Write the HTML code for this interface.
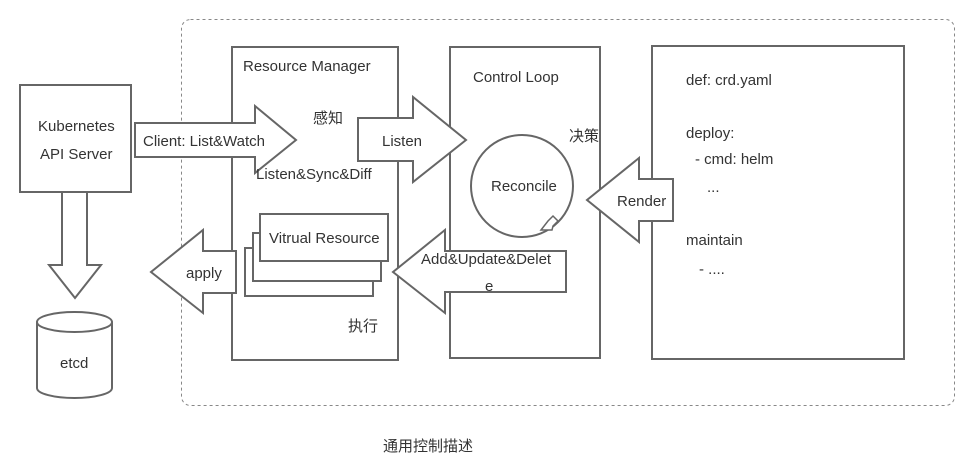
<!DOCTYPE html>
<html><head><meta charset="utf-8"><style>
body{margin:0;background:#fff}
svg text{font-family:"Liberation Sans","Noto Sans CJK SC",sans-serif;font-size:15px;fill:#333}
</style></head><body>
<svg width="974" height="467" viewBox="0 0 974 467" xmlns="http://www.w3.org/2000/svg">
<g fill="#fff" stroke="#666" stroke-width="2">
<rect x="181.5" y="19.5" width="773" height="386" rx="9" stroke="#888" stroke-width="1" stroke-dasharray="3,3"/>
<rect x="232" y="47" width="166" height="313"/>
<rect x="450" y="47" width="150" height="311"/>
<rect x="652" y="46" width="252" height="313"/>
<rect x="20" y="85" width="111" height="107"/>
<polygon points="62,192 87,192 87,265 101,265 75,298 49,265 62,265"/>
<path d="M37,322 L37,388 A37.5,10 0 0 0 112,388 L112,322 A37.5,10 0 0 0 37,322 Z"/>
<path d="M37,322 A37.5,10 0 0 0 112,322"/>
<polygon points="135,123 255,123 255,106 296,140 255,173 255,157 135,157"/>
<polygon points="358,118 413,118 413,97 466,140 413,182 413,161 358,161"/>
<circle cx="522" cy="186" r="51"/>
<polygon points="673,179 639,179 639,158 587,200 639,242 639,221 673,221"/>
<polygon points="566,251 445,251 445,230 393,272 445,313 445,292 566,292"/>
<rect x="245" y="248" width="128" height="48"/>
<rect x="253" y="233" width="128" height="48"/>
<rect x="260" y="214" width="128" height="47"/>
<polygon points="236,251 203,251 203,230 151,272 203,313 203,293 236,293"/>
<polygon points="541,230 548,221 553,216 558,221 553,226 552,230" stroke-width="1.5"/>
</g>
<text x="243" y="71">Resource Manager</text>
<text x="473" y="82">Control Loop</text>
<text x="38" y="131">Kubernetes</text>
<text x="40" y="159">API Server</text>
<text x="60" y="368">etcd</text>
<text x="143" y="146">Client: List&amp;Watch</text>
<text x="313" y="123">感知</text>
<text x="256" y="179">Listen&amp;Sync&amp;Diff</text>
<text x="382" y="146">Listen</text>
<text x="569" y="141">决策</text>
<text x="491" y="191">Reconcile</text>
<text x="617" y="206">Render</text>
<text x="269" y="243">Vitrual Resource</text>
<text x="421" y="264">Add&amp;Update&amp;Delet</text>
<text x="485" y="291">e</text>
<text x="186" y="278">apply</text>
<text x="348" y="331">执行</text>
<text x="686" y="85">def: crd.yaml</text>
<text x="686" y="138">deploy:</text>
<text x="695" y="164">- cmd: helm</text>
<text x="707" y="192">...</text>
<text x="686" y="245">maintain</text>
<text x="699" y="274">- ....</text>
<text x="383" y="451">通用控制描述</text>
</svg>
</body></html>
